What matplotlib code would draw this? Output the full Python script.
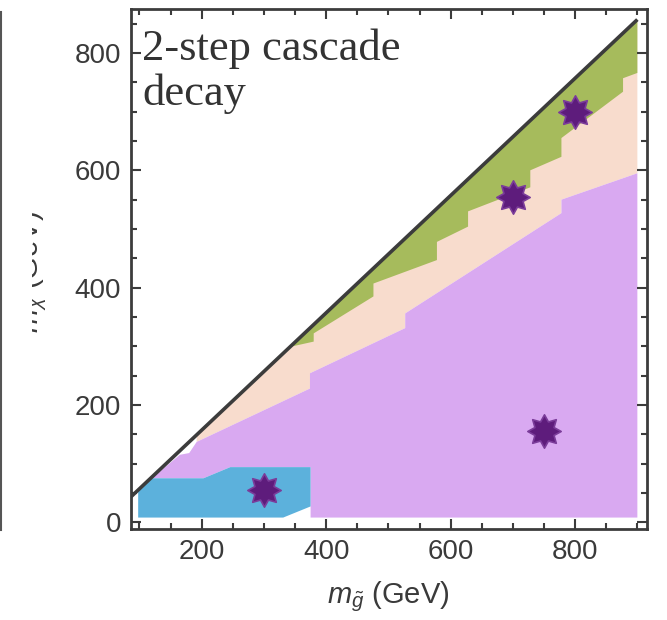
import matplotlib
matplotlib.use("Agg")
import numpy as np
import matplotlib.pyplot as plt
from matplotlib.path import Path
from matplotlib.transforms import Bbox, TransformedBbox

plt.rcParams["mathtext.fontset"] = "custom"
plt.rcParams["mathtext.rm"] = "Liberation Sans"
plt.rcParams["mathtext.it"] = "Liberation Sans:italic"

# Kinematic boundary m_chi = m_gluino - 43
diag_x = [86, 900]
diag_y = [43, 857]

# Green band lower edge (upper edge is the kinematic boundary)
green_x = [342, 380, 380, 476, 476, 578, 578, 628, 628, 728, 728, 778, 778, 877, 877, 900]
green_y = [299, 308, 322, 385, 407, 447, 478, 504, 530, 571, 600, 623, 655, 734, 757, 766]

# Peach band lower edge = purple region upper edge
peach_x = [192, 374, 374, 527, 527, 778, 778, 900]
peach_y = [137, 228, 254, 331, 356, 527, 550, 595]

# Purple region: left boundary along the diagonal down to the blue box
purple_left_x = [120, 165, 180, 192]
purple_left_y = [75, 115, 118, 137]

# Blue region outline
blue_x = [98, 98, 120, 203, 246, 375, 375, 331]
blue_y = [8, 55, 75, 75, 94, 94, 27, 8]

# Benchmark points
bench_x = [300, 700, 800, 750]
bench_y = [55, 555, 700, 155]

x_ticks = [200, 400, 600, 800]
y_ticks = [0, 200, 400, 600, 800]

c_purple = "#d9a9f1"
c_peach = "#f8dccd"
c_green = "#a6bb5c"
c_blue = "#5cb1dc"
c_star = "#5e1c7c"
c_frame = "#3c3c3c"
c_text = "#3a3a3a"

fig = plt.figure(figsize=(6.67, 6.20), dpi=100)
ax = fig.add_axes([130.7 / 667, 1 - 529.3 / 620, (646.7 - 130.7) / 667, (529.3 - 9) / 620])
ax.set_xlim(86, 915)
ax.set_ylim(-12, 875)

xmax = peach_x[-1]


def diag(x):
    return x - 43


# peach: between diagonal and purple edge
px = peach_x + [xmax] + [peach_x[0]]
py = peach_y + [diag(xmax)] + [diag(peach_x[0])]
ax.fill(px, py, color=c_peach, lw=0)

# green: between diagonal and green edge
gx = green_x + [xmax, green_x[0]]
gy = green_y + [diag(xmax), diag(green_x[0])]
ax.fill(gx, gy, color=c_green, lw=0)

# purple: from the bottom up to the peach edge
ux = [blue_x[5], xmax] + peach_x[::-1] + purple_left_x[::-1][1:] + [blue_x[3], blue_x[4], blue_x[5]]
uy = [blue_y[-1], blue_y[-1]] + peach_y[::-1] + purple_left_y[::-1][1:] + [blue_y[3], blue_y[4], blue_y[5]]
ax.fill(ux, uy, color=c_purple, lw=0)

ax.fill(blue_x, blue_y, color=c_blue, lw=0)

ax.plot(diag_x, diag_y, color=c_frame, lw=2.6, solid_capstyle="butt")

# eight-pointed star marker with short points
ang = np.arange(16) * np.pi / 8 + np.pi / 2
rad = np.where(np.arange(16) % 2 == 0, 1.0, 0.62)
star_verts = np.column_stack([rad * np.cos(ang), rad * np.sin(ang)])
star = Path(np.vstack([star_verts, star_verts[:1]]), closed=True)
ax.plot(bench_x, bench_y, ls="none", marker=star, ms=24,
        mfc=c_star, mec="#7b3c9a", mew=1.2)

for s in ax.spines.values():
    s.set_color(c_frame)
    s.set_linewidth(2.0)

ax.set_xticks(x_ticks)
ax.set_yticks(y_ticks)
ax.set_xticks(range(100, 901, 50), minor=True)
ax.set_yticks(range(0, 851, 50), minor=True)
ax.tick_params(which="both", direction="in", top=True, right=True,
               color=c_frame, width=1.5)
ax.tick_params(which="major", length=7, labelsize=20, labelcolor=c_text, pad=7)
ax.tick_params(which="minor", length=4)
for lab in ax.get_xticklabels() + ax.get_yticklabels():
    lab.set_family("Liberation Sans")

ax.set_xlabel(r"$m_{\tilde{g}}$ (GeV)", fontsize=21, color=c_text,
              family="Liberation Sans", labelpad=10)

ax.text(0.022, 0.962, "2-step cascade\ndecay", transform=ax.transAxes,
        family="Liberation Serif", fontsize=32, color="#333333",
        ha="left", va="top", linespacing=1.12)

# y label, partly hidden behind the neighbouring panel
ylab = fig.text(32 / 667, 1 - 272 / 620, r"$m_{\chi}$ (GeV)", rotation=90,
                fontsize=21, color=c_text, family="Liberation Sans",
                ha="center", va="center")
ylab.set_clip_box(TransformedBbox(Bbox([[32 / 667, 0], [1, 1]]), fig.transFigure))
ylab.set_clip_on(True)

# frame edge of the neighbouring panel
fig.add_artist(plt.Line2D([1.5 / 667, 1.5 / 667], [1 - 12 / 620, 1 - 530 / 620],
                          color="#555555", lw=1.5))

fig.savefig("out.png", dpi=100)
